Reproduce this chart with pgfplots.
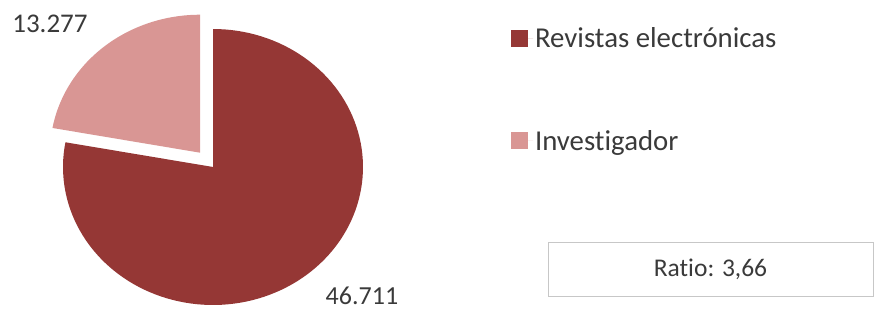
\documentclass[border=0pt]{standalone}
\usepackage{pgfplots}
\pgfplotsset{compat=1.18}
\usepackage{fontspec}
\setmainfont{Carlito}[Ligatures=NoCommon]
\definecolor{darkred}{HTML}{953735}
\definecolor{pinkred}{HTML}{D99694}
\definecolor{txt}{HTML}{3A3A3A}
\begin{document}
\begin{tikzpicture}
\useasboundingbox (0pt,0pt) rectangle (875pt,311pt);
\pgfmathsetmacro{\va}{46.711}
\pgfmathsetmacro{\vb}{13.277}
\pgfmathsetmacro{\aend}{90+360*\vb/(\va+\vb)}
\pgfmathsetmacro{\amid}{(90+\aend)/2}
\pgfmathsetmacro{\ex}{0.135*cos(\amid)}
\pgfmathsetmacro{\ey}{0.135*sin(\amid)}
\begin{axis}[
  at={(213pt,144pt)}, anchor=origin,
  x=150pt, y=138pt,
  xmin=-1, xmax=1, ymin=-1, ymax=1,
  hide axis, clip=false,
  legend image code/.code={\fill[#1] (0pt,-8.5pt) rectangle (17pt,8.5pt);\path (0pt,0pt) -- (22pt,0pt);},
  legend cell align=left,
  legend style={draw=none, fill=none, inner sep=0pt, outer sep=0pt,
    at={(axis cs:1.987,0.56)}, anchor=west,
    font=\fontsize{28.8}{34}\selectfont, text=txt,
    row sep=77pt,
    nodes={inner sep=2pt}},
]
\addplot[draw=none, fill=darkred, domain=\aend:450, samples=120] ({cos(x)},{sin(x)}) -- (axis cs:0,0) -- cycle;
\addlegendentry{Revistas electrónicas}
\addplot[draw=none, fill=pinkred, domain=90:\aend, samples=40] ({\ex+cos(x)},{\ey+sin(x)}) -- (axis cs:\ex,\ey) -- cycle;
\addlegendentry{Investigador}
\node[text=txt, font=\fontsize{27}{32}\selectfont] at (axis cs:-1.087,1.036) {13.277};
\node[text=txt, font=\fontsize{26}{31}\selectfont] at (axis cs:0.993,-0.935) {46.711};
\end{axis}
\node[draw=black!22, line width=1pt, minimum width=325pt, minimum height=54pt, inner sep=0pt,
  text=txt, font=\fontsize{25.5}{30}\selectfont] at (710.5pt,42pt) {Ratio: 3,66};
\end{tikzpicture}
\end{document}
